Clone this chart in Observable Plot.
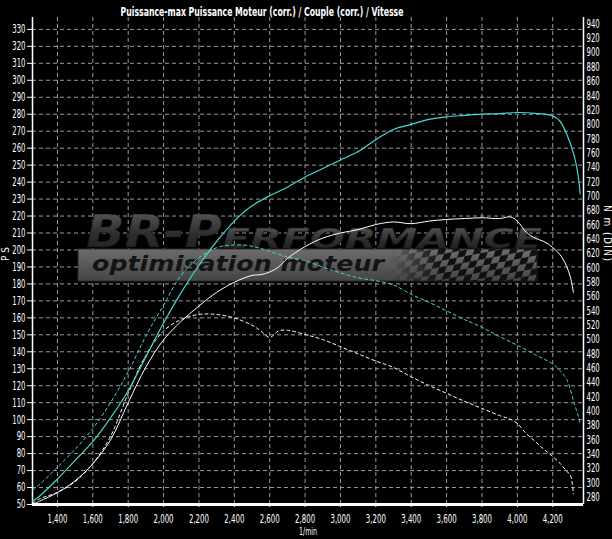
<!DOCTYPE html>
<html>
<head>
<meta charset="utf-8">
<script src="https://cdn.jsdelivr.net/npm/d3@7"></script>
<script src="https://cdn.jsdelivr.net/npm/@observablehq/plot@0.6"></script>
<style>
html, body { margin: 0; padding: 0; background: #000; }
#chart { width: 612px; height: 539px; overflow: hidden; background: #000; }
</style>
</head>
<body>
<div id="chart"></div>
<script>
// ---------- texts ----------
const titleText = "Puissance-max Puissance Moteur (corr.) / Couple (corr.) / Vitesse";
const xLabel = "1/min";
const leftLabel = "P S";
const rightLabel = "N m (DIN)";
const logoTitle = "BR-P";
const logoTitle2 = "ERFORMANCE";
const logoSub = "optimisation moteur";

// ---------- ticks ----------
const rpmTicks = [1400, 1600, 1800, 2000, 2200, 2400, 2600, 2800, 3000, 3200, 3400, 3600, 3800, 4000, 4200];
const psTicks = [50, 60, 70, 80, 90, 100, 110, 120, 130, 140, 150, 160, 170, 180, 190, 200, 210, 220, 230, 240, 250, 260, 270, 280, 290, 300, 310, 320, 330];
const nmTicks = [280, 300, 320, 340, 360, 380, 400, 420, 440, 460, 480, 500, 520, 540, 560, 580, 600, 620, 640, 660, 680, 700, 720, 740, 760, 780, 800, 820, 840, 860, 880, 900, 920, 940];

// ---------- scales ----------
const xDomain = [1259, 4374];
const psDomain = [50, 337];
const nmDomain = [270, 949];

// ---------- tuned run (cyan) ----------
const tunedRpm = [1260, 1300, 1400, 1500, 1600, 1700, 1800, 1900, 2000, 2100, 2200, 2300, 2400, 2500, 2600, 2700, 2800, 2900, 3000, 3100, 3200, 3300, 3400, 3500, 3600, 3700, 3800, 3900, 4000, 4100, 4200, 4240, 4280, 4320, 4345, 4355];
const tunedPs = [52, 55, 65, 76, 87, 101, 117, 137, 157, 175, 191, 205, 217, 226, 232, 237, 243, 248, 253, 258, 265, 271, 274, 277, 278.5, 279.3, 280, 280.3, 281, 280.5, 279, 276, 268, 256, 243, 233];
const tunedNm = [290, 298, 322, 347, 376, 412, 455, 505, 548, 590, 614, 628, 632, 630, 623, 615, 610, 601, 593, 586, 582, 576, 563, 552, 540, 528, 517, 504, 492, 479, 466, 457, 444, 412, 393, 382];

// ---------- stock run (white) ----------
const stockRpm = [1260, 1300, 1400, 1500, 1600, 1700, 1800, 1900, 2000, 2100, 2200, 2300, 2400, 2500, 2550, 2600, 2650, 2700, 2800, 2900, 3000, 3100, 3200, 3300, 3400, 3500, 3600, 3700, 3800, 3900, 3960, 4000, 4050, 4100, 4150, 4200, 4250, 4280, 4300, 4317];
const stockPs = [50, 52, 57, 64, 74, 88, 110, 131, 147, 158, 167, 175, 181, 185, 185.5, 187, 190, 195, 202, 207, 210, 212, 215, 216.5, 215.5, 217, 218, 218.5, 219, 218.5, 219.5, 217, 210.5, 207, 205, 201.5, 196, 190, 184, 175];
const stockNm = [272, 278, 287, 302, 327, 365, 425, 478, 512, 528, 535, 535, 530, 520, 512, 503, 512, 513, 507, 500, 490, 480, 470, 461, 448, 436, 425, 414, 404, 394, 389, 383, 369, 358, 347, 337, 325, 316, 311, 285];

// ---------- colours ----------
const cyan = "#45d6d2";
const white = "#ffffff";
const gridColor = "#9a9a9a";

// Nm values are drawn against the PS scale via the right-axis mapping
const nmToPs = nm => psDomain[0] + (nm - nmDomain[0]) * (psDomain[1] - psDomain[0]) / (nmDomain[1] - nmDomain[0]);
const psToNm = ps => nmDomain[0] + (ps - psDomain[0]) * (nmDomain[1] - nmDomain[0]) / (psDomain[1] - psDomain[0]);

const tunedPower = tunedRpm.map((r, i) => ({rpm: r, v: tunedPs[i]}));
const tunedTorque = tunedRpm.map((r, i) => ({rpm: r, v: nmToPs(tunedNm[i])}));
const stockPower = stockRpm.map((r, i) => ({rpm: r, v: stockPs[i]}));
const stockTorque = stockRpm.map((r, i) => ({rpm: r, v: nmToPs(stockNm[i])}));

const font = "'Liberation Sans Narrow','Arial Narrow','DejaVu Sans Condensed','Liberation Sans',sans-serif";

// watermark logo (decoration, drawn in frame pixels)
function logoMark(index, scales, values, dim) {
  const g = d3.create("svg:g").attr("text-anchor", "start");
  const defs = g.append("defs");
  const bg = defs.append("linearGradient").attr("id", "bandGrad").attr("x1", 0).attr("y1", 0).attr("x2", 0).attr("y2", 1);
  bg.append("stop").attr("offset", "0%").attr("stop-color", "#6c6c6c");
  bg.append("stop").attr("offset", "100%").attr("stop-color", "#454545");
  const tg = defs.append("linearGradient").attr("id", "brGrad").attr("x1", 0).attr("y1", 0).attr("x2", 0).attr("y2", 1);
  tg.append("stop").attr("offset", "0%").attr("stop-color", "#5e5e5e");
  tg.append("stop").attr("offset", "55%").attr("stop-color", "#2e2e2e");
  tg.append("stop").attr("offset", "100%").attr("stop-color", "#1c1c1c");
  const pat = defs.append("pattern").attr("id", "checker").attr("width", 14).attr("height", 14)
    .attr("patternUnits", "userSpaceOnUse").attr("patternTransform", "skewX(-30) rotate(-12)");
  pat.append("rect").attr("width", 7).attr("height", 7).attr("fill", "#111");
  pat.append("rect").attr("x", 7).attr("y", 7).attr("width", 7).attr("height", 7).attr("fill", "#111");
  const mg = defs.append("linearGradient").attr("id", "fadeGrad").attr("x1", 0).attr("y1", 0).attr("x2", 1).attr("y2", 0);
  mg.append("stop").attr("offset", "0%").attr("stop-color", "#000");
  mg.append("stop").attr("offset", "35%").attr("stop-color", "#fff");
  mg.append("stop").attr("offset", "100%").attr("stop-color", "#fff");
  const mask = defs.append("mask").attr("id", "fadeMask").attr("maskUnits", "userSpaceOnUse")
    .attr("x", 380).attr("y", 240).attr("width", 170).attr("height", 50);
  mask.append("rect").attr("x", 390).attr("y", 240).attr("width", 150).attr("height", 45).attr("fill", "url(#fadeGrad)");

  g.append("rect").attr("x", 78).attr("y", 249).attr("width", 459).attr("height", 32)
    .attr("fill", "url(#bandGrad)").attr("stroke", "#2a2a2a");
  g.append("rect").attr("x", 390).attr("y", 249).attr("width", 147).attr("height", 32)
    .attr("fill", "url(#checker)").attr("mask", "url(#fadeMask)");
  g.append("text").attr("x", 92).attr("y", 271).attr("textLength", 292).attr("lengthAdjust", "spacingAndGlyphs")
    .attr("font-family", "'DejaVu Sans',sans-serif").attr("font-style", "italic").attr("font-weight", "bold")
    .attr("font-size", 22).attr("fill", "#141414").text(logoSub);
  g.append("text").attr("x", 86).attr("y", 247).attr("textLength", 136).attr("lengthAdjust", "spacingAndGlyphs")
    .attr("font-family", "'DejaVu Sans',sans-serif").attr("font-style", "italic").attr("font-weight", "bold")
    .attr("font-size", 44).attr("fill", "url(#brGrad)").attr("stroke", "#111").attr("stroke-width", 0.6).text(logoTitle);
  g.append("text").attr("x", 222).attr("y", 248).attr("textLength", 320).attr("lengthAdjust", "spacingAndGlyphs")
    .attr("font-family", "'DejaVu Sans',sans-serif").attr("font-style", "italic").attr("font-weight", "bold")
    .attr("font-size", 27).attr("fill", "url(#brGrad)").attr("stroke", "#111").attr("stroke-width", 0.5).text(logoTitle2);
  return g.node();
}

const chart = Plot.plot({
  width: 612,
  height: 539,
  marginLeft: 32,
  marginRight: 29,
  marginTop: 17,
  marginBottom: 35,
  style: {background: "#000", color: white, fontFamily: font, fontSize: "12px", overflow: "visible"},
  x: {domain: xDomain, axis: null},
  y: {domain: psDomain, axis: null},
  marks: [
    Plot.gridY({ticks: psTicks.slice(1), stroke: gridColor, strokeOpacity: 1, strokeWidth: 1, strokeDasharray: "4 3"}),
    Plot.gridX({ticks: rpmTicks, stroke: gridColor, strokeOpacity: 1, strokeWidth: 1, strokeDasharray: "4 3"}),
    logoMark,
    Plot.ruleX([xDomain[0], xDomain[1]], {stroke: white, strokeWidth: 1.5}),
    Plot.ruleY([psDomain[0]], {stroke: white, strokeWidth: 3}),
    Plot.axisY({anchor: "left", ticks: psTicks, tickSize: 5, tickPadding: 2, label: null, stroke: white, fill: white}),
    Plot.axisY({anchor: "right", ticks: nmTicks.map(nmToPs), tickFormat: v => String(Math.round(psToNm(v))), tickSize: 0, tickPadding: 3, label: null, fill: white}),
    Plot.axisX({anchor: "bottom", ticks: rpmTicks, tickFormat: d3.format(","), tickSize: 3, tickPadding: 7, label: null, stroke: white, fill: white}),
    Plot.line(stockTorque, {x: "rpm", y: "v", stroke: white, strokeWidth: 1, strokeDasharray: "3 3", curve: "catmull-rom"}),
    Plot.line(tunedTorque, {x: "rpm", y: "v", stroke: cyan, strokeWidth: 1, strokeDasharray: "3 3", curve: "catmull-rom"}),
    Plot.line(stockPower, {x: "rpm", y: "v", stroke: white, strokeWidth: 1, curve: "catmull-rom"}),
    Plot.line(tunedPower, {x: "rpm", y: "v", stroke: cyan, strokeWidth: 1.2, curve: "catmull-rom"}),
    Plot.text([titleText], {text: d => d, frameAnchor: "top-left", textAnchor: "start", dx: 88, dy: -10, fill: white, fontWeight: "bold", fontSize: 12}),
    Plot.text([xLabel], {text: d => d, frameAnchor: "bottom", dy: 30, fill: white, fontSize: 11}),
    Plot.text([leftLabel], {text: d => d, frameAnchor: "left", dx: -27, rotate: -90, fill: white, fontSize: 10}),
    Plot.text([rightLabel], {text: d => d, frameAnchor: "right", dx: 24, rotate: 90, fill: white, fontSize: 10})
  ]
});

// narrow, condensed look of the original tick labels
const sel = d3.select(chart);
sel.selectAll("text").each(function() {
  const t = this.textContent;
  if (t === titleText) {
    d3.select(this).attr("textLength", 283).attr("lengthAdjust", "spacingAndGlyphs");
  } else if (/^[0-9,]+$/.test(t)) {
    const digits = t.replace(/,/g, "").length;
    const commas = t.length - digits;
    d3.select(this).attr("textLength", digits * 4.4 + commas * 2.4).attr("lengthAdjust", "spacingAndGlyphs");
  } else if (t === xLabel) {
    d3.select(this).attr("textLength", 18).attr("lengthAdjust", "spacingAndGlyphs");
  } else if (t === rightLabel) {
    d3.select(this).attr("textLength", 56).attr("lengthAdjust", "spacing");
  }
});

document.getElementById("chart").appendChild(chart);
</script>
</body>
</html>
